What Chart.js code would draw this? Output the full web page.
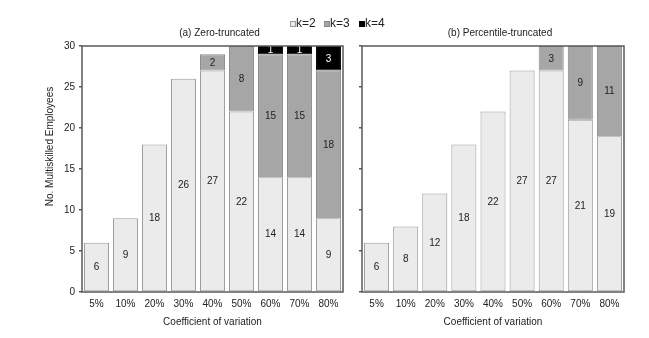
<!DOCTYPE html>
<html>
<head>
<meta charset="utf-8">
<script src="https://cdn.jsdelivr.net/npm/chart.js@4/dist/chart.umd.min.js"></script>
<style>
  html, body { margin: 0; padding: 0; background: #fff; }
  #wrap { position: relative; width: 649px; height: 338px; overflow: hidden; font-family: "Liberation Sans", Arial, sans-serif; }
  #ca { position: absolute; left: 0; top: 0; }
  #cb { position: absolute; left: 345px; top: 0; }
  .lgi { position: absolute; top: 15px; font-size: 12px; line-height: 16px; color: #222; white-space: nowrap; }
  .lgi span.sq { position: absolute; left: 0; top: 6px; width: 4px; height: 4px; border: 1px solid #888; }
  .lgi span.tx { position: absolute; left: 6px; top: 0; }
</style>
</head>
<body>
<div id="wrap">
  <canvas id="ca" width="345" height="338"></canvas>
  <canvas id="cb" width="304" height="338"></canvas>
</div>
<script>
// ---- data ----
const categories = ["5%", "10%", "20%", "30%", "40%", "50%", "60%", "70%", "80%"];
const seriesNames = ["k=2", "k=3", "k=4"];
// (a) Zero-truncated
const zeroK2 = [6, 9, 18, 26, 27, 22, 14, 14, 9];
const zeroK3 = [0, 0, 0, 0, 2, 8, 15, 15, 18];
const zeroK4 = [0, 0, 0, 0, 0, 0, 1, 1, 3];
// (b) Percentile-truncated
const pctK2 = [6, 8, 12, 18, 22, 27, 27, 21, 19];
const pctK3 = [0, 0, 0, 0, 0, 0, 3, 9, 11];
const pctK4 = [0, 0, 0, 0, 0, 0, 0, 0, 0];
const yTicks = [0, 5, 10, 15, 20, 25, 30];

const FONT = "'Liberation Sans', Arial, sans-serif";
const fills = ["#ebebeb", "#a6a6a6", "#000000"];
const borders = ["#9a9a9a", "#8a8a8a", "#000000"];
const labelColors = ["#222222", "#222222", "#ffffff"];
const legendLeft = [290, 324, 359];

// legend (HTML text)
const wrap = document.getElementById('wrap');
seriesNames.forEach((n, i) => {
  const it = document.createElement('div');
  it.className = 'lgi';
  it.style.left = legendLeft[i] + 'px';
  const sq = document.createElement('span');
  sq.className = 'sq';
  sq.style.background = fills[i];
  sq.style.borderColor = borders[i];
  const tx = document.createElement('span');
  tx.className = 'tx';
  tx.textContent = n;
  it.appendChild(sq);
  it.appendChild(tx);
  wrap.appendChild(it);
});

const valueLabels = {
  id: 'valueLabels',
  afterDatasetsDraw(chart) {
    const ctx = chart.ctx;
    ctx.save();
    ctx.font = "10px " + FONT;
    ctx.textAlign = 'center';
    ctx.textBaseline = 'middle';
    chart.data.datasets.forEach((ds, di) => {
      const meta = chart.getDatasetMeta(di);
      meta.data.forEach((bar, i) => {
        const v = ds.data[i];
        if (!v) return;
        const p = bar.getProps(['x', 'y', 'base'], true);
        ctx.fillStyle = labelColors[di];
        ctx.fillText(String(v), p.x, (p.y + p.base) / 2 + 0.5);
      });
    });
    ctx.restore();
  }
};

// frame + panel title + y-axis title
const decor = {
  id: 'decor',
  afterDraw(chart, args, opts) {
    const a = chart.chartArea;
    const ctx = chart.ctx;
    ctx.save();
    ctx.strokeStyle = '#5a5a5a';
    ctx.lineWidth = 1.5;
    ctx.strokeRect(a.left, a.top, a.right - a.left, a.bottom - a.top);
    ctx.fillStyle = '#222';
    ctx.font = "10px " + FONT;
    ctx.textAlign = 'center';
    ctx.textBaseline = 'middle';
    ctx.fillText(opts.title, (a.left + a.right) / 2 + 7, 33);
    if (opts.yTitle) {
      ctx.translate(50, 146.5);
      ctx.rotate(-Math.PI / 2);
      ctx.fillText(opts.yTitle, 0, 0);
    }
    ctx.restore();
  }
};

function makeChart(id, title, yTitle, k2, k3, k4, showYLabels, yWidth, padRight) {
  return new Chart(document.getElementById(id), {
    type: 'bar',
    data: {
      labels: categories,
      datasets: [k2, k3, k4].map((d, i) => ({
        label: seriesNames[i],
        data: d,
        backgroundColor: fills[i],
        borderColor: borders[i],
        borderWidth: 1,
        borderSkipped: false,
        barPercentage: 0.86,
        categoryPercentage: 1.0
      }))
    },
    options: {
      responsive: false,
      animation: false,
      devicePixelRatio: 1,
      layout: { padding: { left: 0, right: padRight, top: 46, bottom: 10 } },
      plugins: {
        legend: { display: false },
        tooltip: { enabled: false },
        title: { display: false },
        decor: { title: title, yTitle: yTitle }
      },
      scales: {
        x: {
          stacked: true,
          grid: { display: false, drawTicks: false },
          border: { display: false },
          ticks: { color: '#222', font: { family: FONT, size: 10 }, padding: 6, maxRotation: 0 },
          title: { display: true, text: 'Coefficient of variation', color: '#222', font: { family: FONT, size: 10 }, padding: { top: 0, bottom: 0 } },
          afterFit(s) { s.height = 36; }
        },
        y: {
          stacked: true,
          min: 0, max: 30,
          afterBuildTicks(s) { s.ticks = yTicks.map(v => ({ value: v })); },
          grid: { drawOnChartArea: false, drawTicks: true, tickLength: 3, color: '#5a5a5a', lineWidth: 1.5 },
          border: { display: false },
          ticks: { display: showYLabels, color: '#222', font: { family: FONT, size: 10 }, padding: 4 },
          afterFit(s) { s.width = yWidth; }
        }
      }
    },
    plugins: [valueLabels, decor]
  });
}

makeChart('ca', '(a) Zero-truncated', 'No. Multiskilled Employees', zeroK2, zeroK3, zeroK4, true, 82, 2);
makeChart('cb', '(b) Percentile-truncated', null, pctK2, pctK3, pctK4, false, 17, 25);
</script>
</body>
</html>
